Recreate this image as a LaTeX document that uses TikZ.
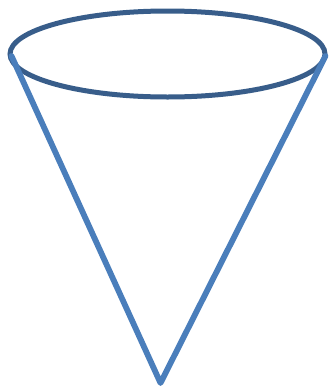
\documentclass[tikz,border=0pt]{standalone}
\begin{document}
\begin{tikzpicture}[x=1pt,y=-1pt,
  rimstyle/.style={draw=rimcol,line width=5pt},
  sidestyle/.style={draw=sidecol,line width=5.8pt,line cap=round,line join=round}]
\definecolor{rimcol}{HTML}{385D8A}
\definecolor{sidecol}{HTML}{4A7EBB}
\useasboundingbox (0,0) rectangle (329,389);
\coordinate (c) at (167.5,54);
\coordinate (l) at (11.5,56);
\coordinate (r) at (325.5,56);
\coordinate (apex) at (160.5,383);
\draw[rimstyle] (c) ellipse [x radius=157.5, y radius=43];
\draw[sidestyle] (l) -- (apex) -- (r);
\end{tikzpicture}
\end{document}
